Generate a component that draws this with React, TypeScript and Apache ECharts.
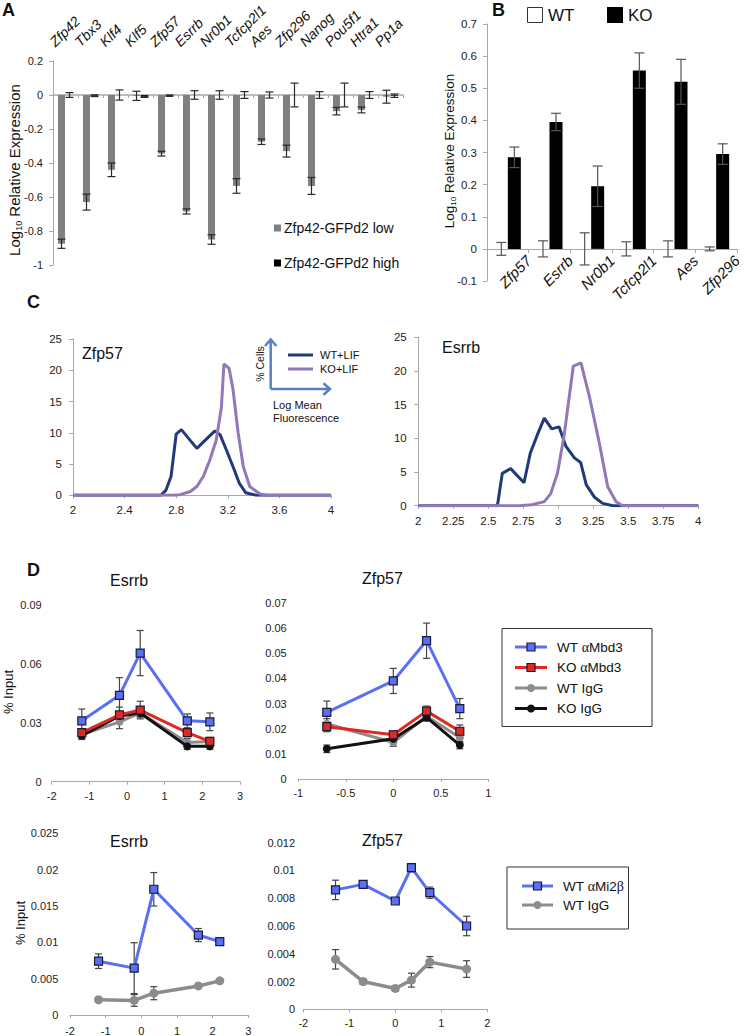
import React, { useEffect, useRef } from 'react';
import * as echarts from 'echarts';

const FONT = 'Liberation Sans, Arial, sans-serif';

// ---------- Panel A ----------
const genesA = ['Zfp42', 'Tbx3', 'Klf4', 'Klf5', 'Zfp57', 'Esrrb', 'Nr0b1', 'Tcfcp2l1', 'Aes', 'Zfp296', 'Nanog', 'Pou5f1', 'Htra1', 'Pp1a'];
const lowA = [-0.875, -0.63, -0.44, -0.005, -0.345, -0.685, -0.85, -0.535, -0.275, -0.33, -0.535, -0.095, -0.088, -0.01];
const lowErrA = [0.027, 0.047, 0.04, 0.027, 0.014, 0.015, 0.028, 0.043, 0.016, 0.035, 0.05, 0.022, 0.017, 0.038];
const highA = [0, -0.004, 0, -0.01, -0.004, 0, 0, 0, 0, 0, 0, 0, 0, -0.004];
const highErrA = [0.014, 0.005, 0.03, 0.004, 0.004, 0.025, 0.025, 0.02, 0.018, 0.07, 0.02, 0.07, 0.02, 0.01];

// ---------- Panel B ----------
const genesB = ['Zfp57', 'Esrrb', 'Nr0b1', 'Tcfcp2l1', 'Aes', 'Zfp296'];
const wtB = [0, 0, 0, 0, 0, 0];
const wtErrB = [0.02, 0.025, 0.05, 0.022, 0.025, 0.006];
const koB = [0.285, 0.395, 0.195, 0.555, 0.52, 0.295];
const koErrB = [0.032, 0.027, 0.063, 0.055, 0.07, 0.032];

// ---------- Panel C ----------
const c1WtX = [2, 2.68, 2.72, 2.76, 2.8, 2.84, 2.96, 3.04, 3.1, 3.14, 3.19, 3.24, 3.29, 3.34, 3.42, 4];
const c1WtY = [0, 0, 0.8, 3, 9.8, 10.5, 7.5, 9.1, 10.3, 9.7, 7.2, 4.6, 1.9, 0.4, 0, 0];
const c1KoX = [2, 2.78, 2.83, 2.91, 2.96, 3.01, 3.06, 3.11, 3.15, 3.17, 3.21, 3.24, 3.28, 3.32, 3.37, 3.45, 3.5, 4];
const c1KoY = [0, 0, 0.1, 0.6, 1.4, 3, 5.6, 8.8, 14, 21, 20.3, 17, 10, 4.6, 1.4, 0.2, 0, 0];
const c2WtX = [2, 2.565, 2.6, 2.66, 2.755, 2.8, 2.85, 2.9, 2.953, 3.005, 3.055, 3.115, 3.16, 3.2, 3.257, 3.317, 3.39, 4];
const c2WtY = [0, 0, 4.8, 5.5, 3.4, 7.8, 10.5, 13, 11.4, 11.7, 8.8, 7.1, 6.4, 3.1, 1.3, 0.35, 0, 0];
const c2KoX = [2, 2.72, 2.81, 2.9, 2.946, 2.994, 3.042, 3.107, 3.162, 3.222, 3.293, 3.353, 3.413, 3.46, 4];
const c2KoY = [0, 0, 0.15, 0.6, 1.8, 4.8, 10.5, 20.7, 21.2, 16.2, 9.3, 2.8, 0.6, 0, 0];

// ---------- Panel D ----------
const esrrbX = [-1.2, -0.2, 0.35, 1.6, 2.2];
const wtMbd3E = [0.031, 0.044, 0.0655, 0.031, 0.0305];
const wtMbd3EErr = [0.006, 0.009, 0.0115, 0.0035, 0.0045];
const koMbd3E = [0.025, 0.034, 0.0365, 0.025, 0.0205];
const koMbd3EErr = [0.002, 0.004, 0.0045, 0.002, 0.002];
const wtIgGE = [0.024, 0.0305, 0.035, 0.02, 0.0205];
const wtIgGEErr = [0.002, 0.0035, 0.002, 0.002, 0.002];
const koIgGE = [0.0235, 0.0335, 0.035, 0.018, 0.018];
const koIgGEErr = [0.002, 0.002, 0.002, 0.0015, 0.0015];

const zfpX = [-0.7, 0, 0.35, 0.7];
const wtMbd3Z = [0.0265, 0.039, 0.055, 0.028];
const wtMbd3ZErr = [0.0045, 0.005, 0.007, 0.004];
const koMbd3Z = [0.0208, 0.0176, 0.027, 0.019];
const koMbd3ZErr = [0.002, 0.0015, 0.002, 0.0025];
const wtIgGZ = [0.022, 0.0145, 0.025, 0.0165];
const wtIgGZErr = [0.002, 0.0015, 0.0015, 0.002];
const koIgGZ = [0.012, 0.016, 0.0245, 0.0135];
const koIgGZErr = [0.0015, 0.0015, 0.0015, 0.0015];

const wtMi2E = [0.0074, 0.00645, 0.0173, 0.011, 0.0101];
const wtMi2EErr = [0.001, 0.0035, 0.0023, 0.0009, 0.0003];
const wtIgGE2 = [0.0021, 0.002, 0.003, 0.004, 0.0047];
const wtIgGE2Err = [0.0003, 0.0008, 0.0009, 0.0002, 0.0002];

const zfpX2 = [-1.3, -0.7, 0, 0.35, 0.75, 1.55];
const wtMi2Z = [0.0086, 0.009, 0.0078, 0.0102, 0.0084, 0.006];
const wtMi2ZErr = [0.0007, 0.0002, 0.0001, 0.0003, 0.0004, 0.0007];
const wtIgGZ2 = [0.0036, 0.002, 0.0015, 0.0021, 0.0034, 0.0029];
const wtIgGZ2Err = [0.0007, 0.0002, 0.0002, 0.0005, 0.0004, 0.0006];

const BLUE = '#5a6ff2';
const RED = '#dd2a22';
const GRAY = '#8c8c8c';
const BLACK = '#111111';
const NAVY = '#233a7a';
const PURPLE = '#9078b9';
const AXIS = '#a8a8a8';

function errBars(xi: number, yi: number, data: number[][], offset: number, color: string, cap: number, z: number) {
  return {
    type: 'custom',
    xAxisIndex: xi,
    yAxisIndex: yi,
    z,
    silent: true,
    data,
    encode: { x: 0, y: 1 },
    renderItem: (params: any, api: any) => {
      const x = api.value(0);
      const y = api.value(1);
      const e = api.value(2);
      const p1 = api.coord([x, y + e]);
      const p2 = api.coord([x, y - e]);
      const cx = p1[0] + offset;
      const st = { stroke: color, lineWidth: 1.2 };
      return {
        type: 'group',
        children: [
          { type: 'line', shape: { x1: cx, y1: p1[1], x2: cx, y2: p2[1] }, style: st },
          { type: 'line', shape: { x1: cx - cap, y1: p1[1], x2: cx + cap, y2: p1[1] }, style: st },
          { type: 'line', shape: { x1: cx - cap, y1: p2[1], x2: cx + cap, y2: p2[1] }, style: st },
        ],
      };
    },
  };
}

const pairs = (xs: number[], ys: number[]) => xs.map((x, i) => [x, ys[i]]);
const triples = (xs: number[], ys: number[], es: number[]) => xs.map((x, i) => [x, ys[i], es[i]]);

function valueX(grid: number, min: number, max: number, interval: number, margin: number, fs = 11) {
  return {
    type: 'value', gridIndex: grid, min, max, interval,
    axisLine: { show: true, onZero: false, lineStyle: { color: AXIS, width: 1 } },
    axisTick: { show: true, length: 3, lineStyle: { color: AXIS } },
    axisLabel: { fontSize: fs, color: '#222', margin },
    splitLine: { show: false },
  };
}
function valueY(grid: number, min: number, max: number, interval: number, margin: number, showLine: boolean, fs = 11) {
  return {
    type: 'value', gridIndex: grid, min, max, interval,
    axisLine: { show: showLine, lineStyle: { color: AXIS, width: 1 } },
    axisTick: { show: showLine, length: 4, lineStyle: { color: AXIS } },
    axisLabel: { fontSize: fs, color: '#222', margin },
    splitLine: { show: false },
  };
}

function lineSeries(xi: number, yi: number, xs: number[], ys: number[], color: string, kind: 'sq' | 'dot', width: number, size: number, z: number) {
  return {
    type: 'line', xAxisIndex: xi, yAxisIndex: yi, z,
    data: pairs(xs, ys),
    symbol: kind === 'sq' ? 'rect' : 'circle',
    symbolSize: size,
    showSymbol: true,
    lineStyle: { color, width },
    itemStyle: kind === 'sq'
      ? { color, borderColor: '#1a1a3a', borderWidth: 1.2 }
      : { color, borderColor: color, borderWidth: 0 },
  };
}

function txt(text: string, x: number, y: number, size: number, opts: any = {}) {
  const align = opts.align || 'left';
  const valign = opts.valign || 'middle';
  return {
    type: 'text', x, y, rotation: opts.rotation || 0, silent: true,
    style: {
      text, fill: opts.color || '#111',
      fontSize: size, fontFamily: opts.family || FONT,
      fontWeight: opts.weight || 'normal', fontStyle: opts.style || 'normal',
      align, verticalAlign: valign, textAlign: align, textVerticalAlign: valign,
      rich: opts.rich,
    },
  };
}

function legendItem(x1: number, x2: number, y: number, color: string, kind: 'sq' | 'dot', label: string, tx: number) {
  const mid = (x1 + x2) / 2;
  const els: any[] = [
    { type: 'line', shape: { x1, y1: y, x2, y2: y }, style: { stroke: color, lineWidth: 3 }, silent: true },
  ];
  if (kind === 'sq') {
    els.push({ type: 'rect', shape: { x: mid - 4, y: y - 4, width: 8, height: 8 }, style: { fill: color, stroke: '#1a1a3a', lineWidth: 1.2 }, silent: true });
  } else {
    els.push({ type: 'circle', shape: { cx: mid, cy: y, r: 4 }, style: { fill: color }, silent: true });
  }
  const parts = label.split(/([αβ])/).filter((s) => s.length);
  const richText = parts.map((p) => (p === 'α' || p === 'β' ? `{g|${p}}` : `{n|${p}}`)).join('');
  els.push(txt(richText, tx, y, 13.5, {
    rich: {
      n: { fontSize: 13.5, fontFamily: FONT, fill: '#111', color: '#111' },
      g: { fontSize: 14, fontFamily: 'Liberation Serif, DejaVu Serif, serif', fill: '#111', color: '#111' },
    },
  }));
  return els;
}

const logRich = (size: number) => ({
  n: { fontSize: size, fontFamily: FONT, fill: '#111', color: '#111', lineHeight: size + 4 },
  s: { fontSize: size * 0.6, fontFamily: FONT, fill: '#111', color: '#111', verticalAlign: 'bottom', lineHeight: size * 0.7 },
});

export default function App() {
  const ref = useRef<HTMLDivElement>(null);

  useEffect(() => {
    if (!ref.current) return;
    const chart = echarts.init(ref.current, undefined, { renderer: 'svg' });

    const grids = [
      { left: 53, top: 61, width: 350, height: 204 }, // A
      { left: 487, top: 24, width: 250, height: 257 }, // B
      { left: 73, top: 339, width: 258, height: 156.3 }, // C1
      { left: 418.3, top: 337.2, width: 280, height: 168.5 }, // C2
      { left: 51.7, top: 605, width: 188.3, height: 176.7 }, // D1
      { left: 298.3, top: 603, width: 190, height: 176 }, // D2
      { left: 70, top: 833.3, width: 178.3, height: 182.7 }, // D3
      { left: 303.3, top: 842.7, width: 184, height: 166.6 }, // D4
    ];

    const xAxes: any[] = [
      // 0: A series axis (zero line)
      {
        type: 'category', gridIndex: 0, data: genesA, position: 'bottom',
        axisLine: { show: true, onZero: true, onZeroAxisIndex: 0, lineStyle: { color: AXIS, width: 1.5 } },
        axisTick: { show: true, interval: 0, length: 3, lineStyle: { color: AXIS } },
        axisLabel: { show: false }, splitLine: { show: false },
      },
      // 1: B series axis
      {
        type: 'category', gridIndex: 1, data: genesB, position: 'bottom',
        axisLine: { show: true, onZero: true, onZeroAxisIndex: 1, lineStyle: { color: AXIS, width: 1.2 } },
        axisTick: { show: true, interval: 0, length: 4, lineStyle: { color: AXIS } },
        axisLabel: { show: false }, splitLine: { show: false },
      },
      // 2: B label axis (shifted up to the zero line)
      {
        type: 'category', gridIndex: 1, data: ['', ...genesB], position: 'bottom', boundaryGap: false, offset: -32,
        axisLine: { show: false, onZero: false }, axisTick: { show: false },
        axisLabel: { interval: 0, rotate: 45, align: 'right', verticalAlign: 'middle', fontStyle: 'italic', fontSize: 15, margin: 9, color: '#111' },
        splitLine: { show: false },
      },
      valueX(2, 2, 4, 0.4, 9, 11.5), // 3 C1
      valueX(3, 2, 4, 0.25, 9, 11.5), // 4 C2
      valueX(4, -2, 3, 1, 9), // 5 D1
      valueX(5, -1, 1, 0.5, 8), // 6 D2
      valueX(6, -2, 3, 1, 10), // 7 D3
      valueX(7, -2, 2, 1, 8), // 8 D4
    ];

    const yAxes: any[] = [
      valueY(0, -1, 0.2, 0.2, 10, true), // A
      valueY(1, -0.1, 0.7, 0.1, 10, true, 11.5), // B
      valueY(2, 0, 25, 5, 11, true, 11.5), // C1
      valueY(3, 0, 25, 5, 11.6, true, 11.5), // C2
      valueY(4, 0, 0.09, 0.03, 10, false), // D1
      valueY(5, 0, 0.07, 0.01, 11.6, false), // D2
      valueY(6, 0, 0.025, 0.005, 11.7, false), // D3
      valueY(7, 0, 0.012, 0.002, 8.3, false), // D4
    ];

    const idx = (a: number[]) => a.map((_, i) => i);

    const series: any[] = [
      // A
      { type: 'bar', xAxisIndex: 0, yAxisIndex: 0, data: lowA, barWidth: 7, barGap: '14%', itemStyle: { color: '#808080' }, z: 2 },
      { type: 'bar', xAxisIndex: 0, yAxisIndex: 0, data: highA, barWidth: 7, barGap: '14%', itemStyle: { color: '#000' }, z: 2 },
      errBars(0, 0, triples(idx(lowA), lowA, lowErrA), -4, '#2a2a2a', 4, 5),
      errBars(0, 0, triples(idx(highA), highA, highErrA), 4, '#2a2a2a', 4, 5),
      // B
      { type: 'bar', xAxisIndex: 1, yAxisIndex: 1, data: wtB, barWidth: 13, barGap: '0%', itemStyle: { color: '#fff', borderWidth: 0 }, z: 2 },
      { type: 'bar', xAxisIndex: 1, yAxisIndex: 1, data: koB, barWidth: 13, barGap: '0%', itemStyle: { color: '#000' }, z: 2 },
      errBars(1, 1, triples(idx(wtB), wtB, wtErrB), -6.5, '#555', 5, 5),
      errBars(1, 1, triples(idx(koB), koB, koErrB), 6.5, '#555', 5, 5),
      // C
      { type: 'line', xAxisIndex: 3, yAxisIndex: 2, data: pairs(c1WtX, c1WtY), symbol: 'none', lineStyle: { color: NAVY, width: 3 }, z: 3 },
      { type: 'line', xAxisIndex: 3, yAxisIndex: 2, data: pairs(c1KoX, c1KoY), symbol: 'none', lineStyle: { color: PURPLE, width: 3 }, z: 4 },
      { type: 'line', xAxisIndex: 4, yAxisIndex: 3, data: pairs(c2WtX, c2WtY), symbol: 'none', lineStyle: { color: NAVY, width: 3 }, z: 3 },
      { type: 'line', xAxisIndex: 4, yAxisIndex: 3, data: pairs(c2KoX, c2KoY), symbol: 'none', lineStyle: { color: PURPLE, width: 3 }, z: 4 },
      // D1
      errBars(5, 4, triples(esrrbX, wtIgGE, wtIgGEErr), 0, '#444', 3.5, 1),
      errBars(5, 4, triples(esrrbX, koIgGE, koIgGEErr), 0, '#444', 3.5, 1),
      errBars(5, 4, triples(esrrbX, koMbd3E, koMbd3EErr), 0, '#444', 3.5, 1),
      errBars(5, 4, triples(esrrbX, wtMbd3E, wtMbd3EErr), 0, '#444', 3.5, 1),
      lineSeries(5, 4, esrrbX, wtIgGE, GRAY, 'dot', 3, 8, 2),
      lineSeries(5, 4, esrrbX, koIgGE, BLACK, 'dot', 3, 8, 3),
      lineSeries(5, 4, esrrbX, koMbd3E, RED, 'sq', 3, 8, 4),
      lineSeries(5, 4, esrrbX, wtMbd3E, BLUE, 'sq', 3, 8, 5),
      // D2
      errBars(6, 5, triples(zfpX, wtIgGZ, wtIgGZErr), 0, '#444', 3.5, 1),
      errBars(6, 5, triples(zfpX, koIgGZ, koIgGZErr), 0, '#444', 3.5, 1),
      errBars(6, 5, triples(zfpX, koMbd3Z, koMbd3ZErr), 0, '#444', 3.5, 1),
      errBars(6, 5, triples(zfpX, wtMbd3Z, wtMbd3ZErr), 0, '#444', 3.5, 1),
      lineSeries(6, 5, zfpX, wtIgGZ, GRAY, 'dot', 3, 8, 2),
      lineSeries(6, 5, zfpX, koIgGZ, BLACK, 'dot', 3, 8, 3),
      lineSeries(6, 5, zfpX, koMbd3Z, RED, 'sq', 3, 8, 4),
      lineSeries(6, 5, zfpX, wtMbd3Z, BLUE, 'sq', 3, 8, 5),
      // D3
      errBars(7, 6, triples(esrrbX, wtIgGE2, wtIgGE2Err), 0, '#444', 3.5, 1),
      errBars(7, 6, triples(esrrbX, wtMi2E, wtMi2EErr), 0, '#444', 3.5, 1),
      lineSeries(7, 6, esrrbX, wtIgGE2, GRAY, 'dot', 3.5, 9, 2),
      lineSeries(7, 6, esrrbX, wtMi2E, BLUE, 'sq', 3, 8, 5),
      // D4
      errBars(8, 7, triples(zfpX2, wtIgGZ2, wtIgGZ2Err), 0, '#444', 3.5, 1),
      errBars(8, 7, triples(zfpX2, wtMi2Z, wtMi2ZErr), 0, '#444', 3.5, 1),
      lineSeries(8, 7, zfpX2, wtIgGZ2, GRAY, 'dot', 3.5, 9, 2),
      lineSeries(8, 7, zfpX2, wtMi2Z, BLUE, 'sq', 3, 8, 5),
    ];

    const ARROW = '#5b7fc7';
    const graphics: any[] = [
      // panel letters
      txt('A', 2, 10, 18, { weight: 'bold' }),
      txt('B', 492, 10, 18, { weight: 'bold' }),
      txt('C', 27, 302, 18, { weight: 'bold' }),
      txt('D', 27, 570, 18, { weight: 'bold' }),
      // A y name
      txt('{n|Log}{s|10}{n| Relative Expression}', 14, 170, 15, { align: 'center', rotation: Math.PI / 2, rich: logRich(15) }),
      // A legend
      { type: 'rect', shape: { x: 274, y: 224.5, width: 7, height: 7 }, style: { fill: '#808080' }, silent: true },
      txt('Zfp42-GFPd2 low', 284, 228, 14),
      { type: 'rect', shape: { x: 274, y: 259.5, width: 7, height: 7 }, style: { fill: '#000' }, silent: true },
      txt('Zfp42-GFPd2 high', 284, 263, 14),
      // B y name
      txt('{n|Log}{s|10}{n| Relative Expression}', 449, 151, 13.5, { align: 'center', rotation: Math.PI / 2, rich: logRich(13.5) }),
      // B legend
      { type: 'rect', shape: { x: 527.5, y: 7.5, width: 15, height: 15 }, style: { fill: '#fff', stroke: '#333', lineWidth: 1 }, silent: true },
      txt('WT', 548, 15.5, 17),
      { type: 'rect', shape: { x: 607, y: 7, width: 16, height: 16 }, style: { fill: '#000' }, silent: true },
      txt('KO', 628, 15.5, 17),
      // C titles
      txt('Zfp57', 82, 353, 16),
      txt('Esrrb', 442, 347, 16),
      // C legend arrows
      { type: 'line', shape: { x1: 270.7, y1: 389, x2: 270.7, y2: 341 }, style: { stroke: ARROW, lineWidth: 2.5 }, silent: true },
      { type: 'polyline', shape: { points: [[265, 346], [270.7, 339.5], [276.4, 346]] }, style: { stroke: ARROW, lineWidth: 2.5, fill: 'none' }, silent: true },
      { type: 'line', shape: { x1: 270.7, y1: 389, x2: 329, y2: 389 }, style: { stroke: ARROW, lineWidth: 2.5 }, silent: true },
      { type: 'polyline', shape: { points: [[323.5, 383.3], [330, 389], [323.5, 394.7]] }, style: { stroke: ARROW, lineWidth: 2.5, fill: 'none' }, silent: true },
      txt('% Cells', 260, 364, 10.5, { align: 'center', rotation: Math.PI / 2 }),
      txt('Log Mean', 273, 405, 11),
      txt('Fluorescence', 273, 418, 11),
      { type: 'line', shape: { x1: 288, y1: 355, x2: 313, y2: 355 }, style: { stroke: NAVY, lineWidth: 3 }, silent: true },
      { type: 'line', shape: { x1: 288, y1: 369, x2: 313, y2: 369 }, style: { stroke: PURPLE, lineWidth: 3 }, silent: true },
      txt('WT+LIF', 320, 355, 11),
      txt('KO+LIF', 320, 369, 11),
      // D titles
      txt('Esrrb', 110, 580, 16),
      txt('Zfp57', 362, 578, 16),
      txt('Esrrb', 110, 841, 16),
      txt('Zfp57', 362, 840, 16),
      txt('% Input', 8, 692, 13, { align: 'center', rotation: Math.PI / 2 }),
      txt('% Input', 20, 923, 13, { align: 'center', rotation: Math.PI / 2 }),
      // D legends
      { type: 'rect', shape: { x: 502, y: 628.5, width: 150, height: 98 }, style: { fill: '#fff', stroke: '#333', lineWidth: 1 }, silent: true, z: 0 },
      ...legendItem(515, 547, 647, BLUE, 'sq', 'WT αMbd3', 557),
      ...legendItem(515, 547, 667.5, RED, 'sq', 'KO αMbd3', 557),
      ...legendItem(515, 547, 688, GRAY, 'dot', 'WT IgG', 557),
      ...legendItem(515, 547, 708.5, BLACK, 'dot', 'KO IgG', 557),
      { type: 'rect', shape: { x: 507, y: 867, width: 121.5, height: 62 }, style: { fill: '#fff', stroke: '#333', lineWidth: 1 }, silent: true, z: 0 },
      ...legendItem(522, 553, 886, BLUE, 'sq', 'WT αMi2β', 563),
      ...legendItem(522, 553, 905, GRAY, 'dot', 'WT IgG', 563),
    ];

    chart.setOption({
      animation: false,
      backgroundColor: '#ffffff',
      textStyle: { fontFamily: FONT },
      grid: grids,
      xAxis: xAxes,
      yAxis: yAxes,
      series,
      graphic: { elements: graphics },
    });

    // Panel A gene names above the plot, placed from the category scale
    const gridTop = 61;
    const labelEls = genesA.map((g) => {
      const cx = chart.convertToPixel({ xAxisIndex: 0 }, g) as unknown as number;
      return txt(g, cx - 8.5, gridTop - 12, 14, { style: 'italic', valign: 'bottom', rotation: Math.PI / 4 });
    });
    chart.setOption({ graphic: { elements: [...graphics, ...labelEls] } });

    return () => {
      chart.dispose();
    };
  }, []);

  return (
    <div
      ref={ref}
      style={{ position: 'absolute', left: 0, top: 0, width: 747, height: 1036, background: '#fff' }}
    />
  );
}
